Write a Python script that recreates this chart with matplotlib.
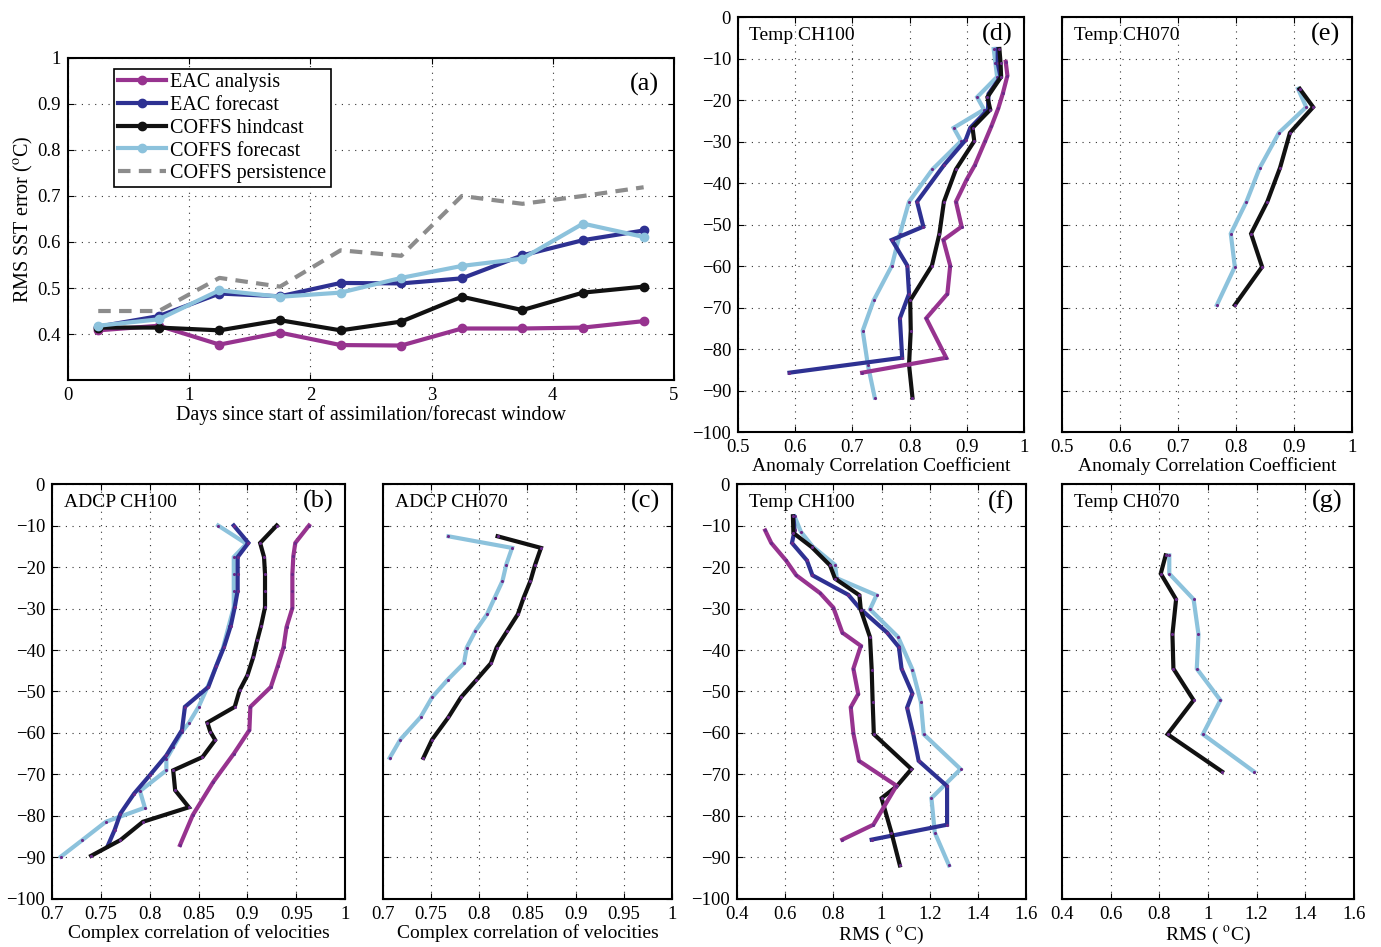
import matplotlib

matplotlib.use("Agg")
import matplotlib.pyplot as plt
from matplotlib.ticker import FuncFormatter

plt.rcParams["font.family"] = ["Liberation Serif", "DejaVu Serif"]
plt.rcParams["mathtext.fontset"] = "stix"

PURPLE = "#97338f"
NAVY = "#2e3192"
BLACK = "#111111"
LBLUE = "#8cc2dc"
GREY = "#8c8c8c"
DOT = "#6a2a8a"

# ---- panel (a): RMS SST error vs forecast day
days = [0.25, 0.75, 1.25, 1.75, 2.25, 2.75, 3.25, 3.75, 4.25, 4.75]
eac_analysis = [0.408, 0.418, 0.377, 0.403, 0.376, 0.375, 0.412, 0.412, 0.414, 0.428]
eac_forecast = [0.416, 0.439, 0.488, 0.482, 0.511, 0.510, 0.521, 0.571, 0.604, 0.625]
coffs_hindcast = [0.414, 0.414, 0.408, 0.430, 0.408, 0.427, 0.481, 0.452, 0.490, 0.503]
coffs_forecast = [0.418, 0.432, 0.495, 0.481, 0.490, 0.522, 0.548, 0.564, 0.640, 0.611]
coffs_persist = [0.450, 0.450, 0.522, 0.503, 0.582, 0.570, 0.700, 0.683, 0.700, 0.719]

# ---- panel (b): ADCP CH100 complex correlation
b_lb_x = [0.870, 0.899, 0.886, 0.886, 0.886, 0.886, 0.881, 0.875, 0.868, 0.860, 0.850, 0.840,
          0.833, 0.824, 0.817, 0.817, 0.790, 0.795, 0.755, 0.731, 0.709]
b_lb_z = [-10, -14.4, -17.6, -21.7, -25.7, -29.7, -34.1, -39.5, -43.9, -48.5, -53.7, -57.6,
          -59.7, -63.4, -66.3, -69.0, -74.0, -78.0, -81.4, -85.8, -89.8]
b_nv_x = [0.886, 0.901, 0.890, 0.890, 0.890, 0.887, 0.883, 0.876, 0.868, 0.860, 0.836, 0.833,
          0.817, 0.800, 0.784, 0.770, 0.764, 0.757]
b_nv_z = [-10, -14.2, -17.6, -21.7, -25.7, -29.7, -34.1, -39.3, -43.9, -48.9, -53.7, -59.3,
          -65.4, -70.2, -74.6, -79.4, -83.4, -87.2]
b_bk_x = [0.930, 0.913, 0.917, 0.918, 0.918, 0.918, 0.914, 0.910, 0.906, 0.900, 0.892, 0.887,
          0.859, 0.862, 0.867, 0.854, 0.824, 0.826, 0.840, 0.793, 0.770, 0.740]
b_bk_z = [-10, -14.2, -17.6, -21.7, -25.7, -29.7, -34.1, -37.7, -41.7, -46.1, -49.7, -53.7,
          -57.5, -59.7, -61.7, -65.8, -69.0, -73.8, -77.9, -81.4, -85.8, -89.6]
b_pu_x = [0.963, 0.949, 0.947, 0.946, 0.946, 0.946, 0.940, 0.937, 0.931, 0.924, 0.903, 0.902,
          0.886, 0.865, 0.844, 0.831]
b_pu_z = [-10, -14.2, -17.4, -21.7, -25.7, -29.9, -34.5, -39.3, -43.9, -48.9, -53.7, -59.3,
          -65.0, -71.8, -79.8, -87.0]

# ---- panel (c): ADCP CH070 complex correlation
c_z = [-12.6, -15.4, -19.4, -23.4, -27.4, -31.4, -35.4, -39.4, -43.2, -47.2, -51.4, -56.2,
       -61.6, -66.0]
c_lb_x = [0.768, 0.834, 0.828, 0.824, 0.816, 0.808, 0.796, 0.787, 0.784, 0.767, 0.751, 0.739,
          0.718, 0.707]
c_bk_x = [0.819, 0.864, 0.858, 0.853, 0.846, 0.840, 0.829, 0.818, 0.812, 0.797, 0.781, 0.768,
          0.751, 0.742]

# ---- panel (d): Temp CH100 anomaly correlation
d_z = [-7.7, -11.1, -14.4, -19.3, -22.3, -26.7, -29.9, -36.7, -44.5, -52.3, -59.9, -68.3,
       -75.6, -83.8, -91.7]
d_lb_x = [0.947, 0.950, 0.953, 0.918, 0.930, 0.877, 0.890, 0.840, 0.799, 0.783, 0.769, 0.737,
          0.718, 0.727, 0.739]
d_bk_x = [0.957, 0.959, 0.960, 0.936, 0.941, 0.910, 0.913, 0.881, 0.860, 0.852, 0.839, 0.801,
          0.802, 0.799, 0.805]
d_nv_z = [-7.7, -11.1, -14.4, -18.5, -22.3, -26.7, -29.6, -35.7, -44.5, -50.5, -53.7, -59.9,
          -66.7, -72.6, -82.1, -85.7]
d_nv_x = [0.954, 0.954, 0.959, 0.938, 0.937, 0.906, 0.898, 0.860, 0.813, 0.824, 0.769, 0.796,
          0.799, 0.783, 0.787, 0.590]
d_pu_z = [-10.8, -14.1, -18.4, -22.0, -26.3, -29.9, -35.7, -39.1, -44.5, -50.5, -53.7, -59.9,
          -66.7, -72.6, -82.1, -85.7]
d_pu_x = [0.968, 0.971, 0.963, 0.955, 0.943, 0.932, 0.914, 0.900, 0.881, 0.891, 0.859, 0.871,
          0.866, 0.829, 0.864, 0.717]

# ---- panel (e): Temp CH070 anomaly correlation
e_z = [-17.3, -21.7, -27.9, -36.3, -44.5, -52.2, -60.2, -69.4]
e_lb_x = [0.907, 0.921, 0.874, 0.841, 0.818, 0.791, 0.798, 0.767]
e_bk_x = [0.910, 0.933, 0.893, 0.876, 0.854, 0.826, 0.845, 0.798]

# ---- panel (f): Temp CH100 RMS
f_z = [-7.8, -11.5, -15.0, -19.5, -22.7, -26.8, -30.2, -36.9, -44.7, -52.5, -60.3, -68.7,
       -75.7, -84.0, -91.9]
f_lb_x = [0.639, 0.665, 0.713, 0.807, 0.814, 0.979, 0.952, 1.069, 1.128, 1.163, 1.175, 1.328,
          1.207, 1.221, 1.280]
f_bk_z = [-7.8, -11.8, -15.2, -19.6, -22.8, -26.8, -30.4, -36.9, -44.7, -52.5, -60.3, -68.7,
          -72.9, -75.7, -84.0, -91.9]
f_bk_x = [0.632, 0.634, 0.710, 0.786, 0.807, 0.908, 0.914, 0.952, 0.959, 0.963, 0.968, 1.124,
          1.062, 1.000, 1.041, 1.076]
f_nv_z = [-7.8, -11.2, -14.2, -18.4, -22.0, -26.7, -30.0, -35.8, -39.3, -44.5, -50.5, -53.9,
          -60.1, -66.7, -72.8, -82.1, -85.7]
f_nv_x = [0.634, 0.639, 0.628, 0.690, 0.713, 0.862, 0.910, 1.023, 1.072, 1.083, 1.128, 1.106,
          1.131, 1.154, 1.272, 1.272, 0.959]
f_pu_z = [-11.2, -14.2, -18.4, -22.0, -26.3, -29.8, -35.8, -39.0, -44.5, -50.6, -53.8, -60.1,
          -66.7, -72.7, -82.1, -85.7]
f_pu_x = [0.517, 0.542, 0.603, 0.646, 0.745, 0.800, 0.837, 0.914, 0.883, 0.903, 0.872, 0.883,
          0.906, 1.062, 0.966, 0.837]

# ---- panel (g): Temp CH070 RMS
g_z = [-17.2, -21.6, -27.8, -36.2, -44.5, -52.1, -60.3, -69.3]
g_lb_x = [0.841, 0.841, 0.941, 0.961, 0.954, 1.051, 0.979, 1.189]
g_bk_x = [0.826, 0.806, 0.869, 0.854, 0.858, 0.941, 0.834, 1.058]

depth_ticks = list(range(-100, 1, 10))
fmt = FuncFormatter(lambda v, p: f"{v:g}".replace("-", "\u2212"))


def style(ax):
    ax.grid(True, ls=(0, (1, 5)), color="#333333", lw=0.8)
    ax.tick_params(direction="in", top=True, right=True, length=4, labelsize=13.5, pad=5)
    for s in ax.spines.values():
        s.set_linewidth(1.5)
    ax.xaxis.set_major_formatter(fmt)
    ax.yaxis.set_major_formatter(fmt)


def profile(ax, series, xlim, xticks, xlabel, title, tag, ylabels=True):
    for x, z, c in series:
        ax.plot(x, z, color=c, lw=3, marker=".", ms=2.5, mfc=DOT, mec=DOT,
                solid_joinstyle="miter")
    ax.set_xlim(xlim)
    ax.set_ylim(-100, 0)
    ax.set_xticks(xticks)
    ax.set_yticks(depth_ticks)
    style(ax)
    if not ylabels:
        ax.set_yticklabels([])
    ax.set_xlabel(xlabel, fontsize=14, labelpad=1)
    ax.text(0.04, 0.975, title, transform=ax.transAxes, fontsize=14, va="top")
    ax.text(0.96, 0.985, tag, transform=ax.transAxes, fontsize=19, va="top", ha="right")


fig = plt.figure(figsize=(13.81, 9.47), dpi=100)

ax = fig.add_axes([0.0492, 0.5987, 0.4388, 0.3401])
ax.plot(days, eac_analysis, color=PURPLE, lw=3, marker="o", ms=6, label="EAC analysis")
ax.plot(days, eac_forecast, color=NAVY, lw=3, marker="o", ms=6, label="EAC forecast")
ax.plot(days, coffs_hindcast, color=BLACK, lw=3, marker="o", ms=6, label="COFFS hindcast")
ax.plot(days, coffs_forecast, color=LBLUE, lw=3, marker="o", ms=6, label="COFFS forecast")
ax.plot(days, coffs_persist, color=GREY, lw=3, ls=(0, (3, 2)), label="COFFS persistence")
ax.set_xlim(0, 5)
ax.set_ylim(0.3, 1)
ax.set_yticks([0.4, 0.5, 0.6, 0.7, 0.8, 0.9, 1])
style(ax)
ax.set_xlabel("Days since start of assimilation/forecast window", fontsize=14.5, labelpad=1)
ax.set_ylabel(r"RMS SST error ($^{\rm o}$C)", fontsize=14.5, labelpad=2)
ax.text(0.975, 0.955, "(a)", transform=ax.transAxes, fontsize=19, va="top", ha="right")
leg = ax.legend(loc="upper left", bbox_to_anchor=(0.076, 0.965), fontsize=14.5,
                handlelength=2.4, handletextpad=0.2, borderpad=0.2, labelspacing=0.18,
                fancybox=False, framealpha=1, edgecolor="black", borderaxespad=0)
leg.get_frame().set_linewidth(1.2)

corr_ticks = [0.7, 0.75, 0.8, 0.85, 0.9, 0.95, 1]
acc_ticks = [0.5, 0.6, 0.7, 0.8, 0.9, 1]
rms_ticks = [0.4, 0.6, 0.8, 1, 1.2, 1.4, 1.6]

ax = fig.add_axes([0.0377, 0.0507, 0.2122, 0.4382])
profile(ax, [(b_lb_x, b_lb_z, LBLUE), (b_nv_x, b_nv_z, NAVY), (b_bk_x, b_bk_z, BLACK),
             (b_pu_x, b_pu_z, PURPLE)],
        (0.7, 1), corr_ticks, "Complex correlation of velocities", "ADCP CH100", "(b)")

ax = fig.add_axes([0.2773, 0.0507, 0.2093, 0.4382])
profile(ax, [(c_lb_x, c_z, LBLUE), (c_bk_x, c_z, BLACK)],
        (0.7, 1), corr_ticks, "Complex correlation of velocities", "ADCP CH070", "(c)",
        ylabels=False)

ax = fig.add_axes([0.5344, 0.5438, 0.2071, 0.4382])
profile(ax, [(d_lb_x, d_z, LBLUE), (d_nv_x, d_nv_z, NAVY), (d_bk_x, d_z, BLACK),
             (d_pu_x, d_pu_z, PURPLE)],
        (0.5, 1), acc_ticks, "Anomaly Correlation Coefficient", "Temp CH100", "(d)")

ax = fig.add_axes([0.769, 0.5438, 0.21, 0.4382])
profile(ax, [(e_lb_x, e_z, LBLUE), (e_bk_x, e_z, BLACK)],
        (0.5, 1), acc_ticks, "Anomaly Correlation Coefficient", "Temp CH070", "(e)",
        ylabels=False)

ax = fig.add_axes([0.5337, 0.0507, 0.2093, 0.4382])
profile(ax, [(f_lb_x, f_z, LBLUE), (f_nv_x, f_nv_z, NAVY), (f_bk_x, f_bk_z, BLACK),
             (f_pu_x, f_pu_z, PURPLE)],
        (0.4, 1.6), rms_ticks, r"RMS ( $^{\rm o}$C)", "Temp CH100", "(f)")

ax = fig.add_axes([0.769, 0.0507, 0.2114, 0.4382])
profile(ax, [(g_lb_x, g_z, LBLUE), (g_bk_x, g_z, BLACK)],
        (0.4, 1.6), rms_ticks, r"RMS ( $^{\rm o}$C)", "Temp CH070", "(g)", ylabels=False)

fig.savefig("out.png", dpi=100)
